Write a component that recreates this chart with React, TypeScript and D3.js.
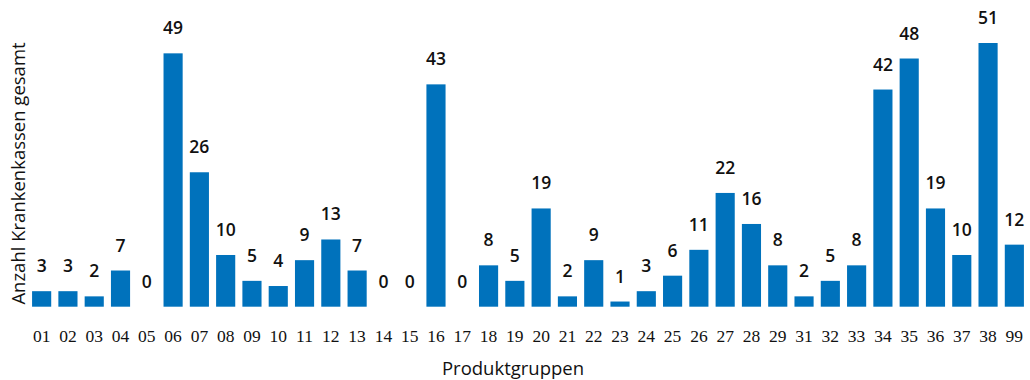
import React from "react";
import * as d3 from "d3";

const categories = ["01","02","03","04","05","06","07","08","09","10","11","12","13","14","15","16","17","18","19","20","21","22","23","24","25","26","27","28","29","31","32","33","34","35","36","37","38","99"];
const values = [3,3,2,7,0,49,26,10,5,4,9,13,7,0,0,43,0,8,5,19,2,9,1,3,6,11,22,16,8,2,5,8,42,48,19,10,51,12];
const xTitle = "Produktgruppen";
const yTitle = "Anzahl Krankenkassen gesamt";

export default function App() {
  const W = 1030, H = 380;
  const x = d3.scaleBand<string>().domain(categories).range([28.5, 1027.5]).paddingInner(0.272).paddingOuter(0.136);
  const y = d3.scaleLinear().domain([0, 51]).range([306.7, 43]);
  const sans = "'Open Sans', 'Noto Sans', sans-serif";
  return (
    <svg width={W} height={H} style={{ position: "absolute", left: 0, top: 0 }}>
      {categories.map((c, i) => {
        const v = values[i];
        const bx = x(c)!;
        return (
          <g key={c}>
            {v > 0 && (
              <rect x={bx} y={y(v)} width={x.bandwidth()} height={y(0) - y(v)} fill="#0072bc" />
            )}
            <text x={bx + x.bandwidth() / 2} y={y(v) - 19} textAnchor="middle" fontFamily={sans} fontWeight={600} fontSize={17.5} fill="#111">{v}</text>
            <text x={bx + x.bandwidth() / 2} y={341.5} textAnchor="middle" fontFamily="'Liberation Serif', 'DejaVu Serif', serif" fontSize={17.5} fill="#111">{c}</text>
          </g>
        );
      })}
      <text x={513} y={375} textAnchor="middle" fontFamily={sans} fontSize={18.5} fill="#111">{xTitle}</text>
      <text transform="translate(24.5,173.5) rotate(-90)" textAnchor="middle" fontFamily={sans} fontSize={18.5} fill="#111">{yTitle}</text>
    </svg>
  );
}
